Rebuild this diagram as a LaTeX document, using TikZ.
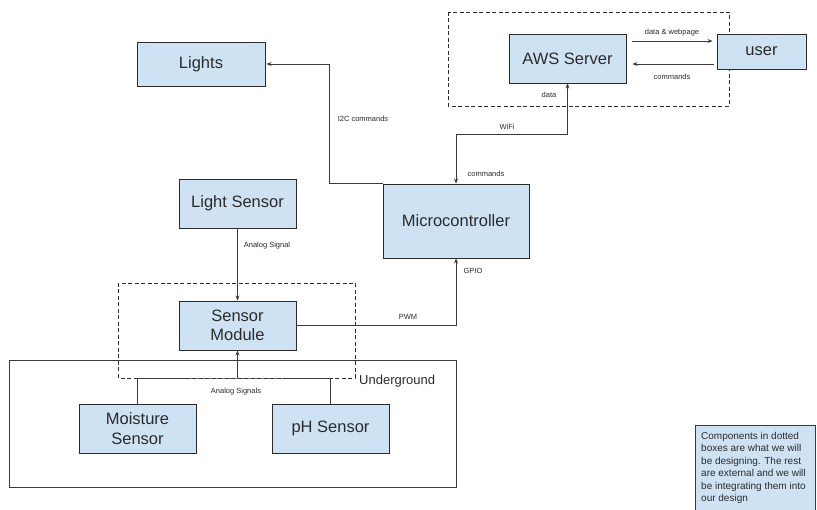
\documentclass[tikz,border=0pt]{standalone}
\usepackage{fontspec}
\setmainfont{Liberation Sans}
\usetikzlibrary{arrows.meta,calc}
\definecolor{boxblue}{HTML}{CFE2F3}
\definecolor{ink}{HTML}{2B2B2B}
\definecolor{wire}{HTML}{3A3A3A}

\begin{document}
\begin{tikzpicture}[x=1pt,y=-1pt,
  block/.style={draw=ink, fill=boxblue, line width=0.9pt, inner sep=0pt,
    align=center, text=ink, font=\fontsize{16.5}{19.5}\selectfont},
  tag/.style={text=ink, inner sep=0pt, font=\fontsize{7.5}{9}\selectfont},
  arr/.style={draw=wire, line width=0.8pt, -{Stealth[length=5pt,width=4pt]}},
  link/.style={draw=wire, line width=0.8pt},
  dashbox/.style={draw=ink, line width=0.8pt, dash pattern=on 4pt off 2.5pt},
]
\useasboundingbox (0,0) rectangle (817,510);
\fill[white] (0,0) rectangle (817,510);

% underground enclosure and design-scope dashed frames
\draw[draw=wire, line width=0.9pt] (9,360) rectangle (456,487);
\node[anchor=west, inner sep=0pt, text=ink, font=\fontsize{13}{15}\selectfont] (ug) at (359,381) {Underground};
\draw[dashbox] (448,12) rectangle (729,106);
\draw[dashbox] (118,283) rectangle (355,378);

% components
\node[block, minimum width=117pt, minimum height=49pt] (aws) at (567.5,58.5) {AWS Server};
\node[block, minimum width=89pt, minimum height=35pt] (user) at (761.5,51.5) {user};
\node[block, minimum width=128pt, minimum height=44pt] (lights) at (201,64) {Lights};
\node[block, minimum width=117pt, minimum height=49pt] (lsensor) at (237.5,203.5) {Light Sensor};
\node[block, minimum width=146pt, minimum height=74pt] (mcu) at (456,221) {Microcontroller};
\node[block, minimum width=117pt, minimum height=49pt] (smod) at (237.5,325.5) {Sensor\\Module};
\node[block, minimum width=117pt, minimum height=49pt] (moist) at (137.5,428.5) {Moisture\\Sensor};
\node[block, minimum width=117pt, minimum height=49pt] (ph) at (330.5,428.5) {pH Sensor};

% server <-> user
\coordinate (dw) at ($(aws.east)+(6,-17.5)$);
\draw[arr, shorten >=4pt] (dw) -- (dw -| user.west);
\node[tag] (dwl) at (672,33) {data \& webpage};
\coordinate (cm) at ($(aws.east -| user.west)+(-3,5.5)$);
\draw[arr, shorten >=6pt] (cm) -- (cm -| aws.east);
\node[tag] (cml) at (672,77) {commands};

% microcontroller <-> server over WiFi
\coordinate (wf) at (mcu.north |- 0,134);
\draw[link, {Stealth[length=5pt,width=4pt]}-{Stealth[length=5pt,width=4pt]}] (aws.south) |- (wf) -- (mcu.north);
\node[tag] (datal) at (549,95) {data};
\node[tag] (wfl) at (507,127) {WiFi};
\node[tag] (mcl) at (486,174) {commands};

% microcontroller -> lights
\coordinate (ic) at (329,0);
\draw[arr, shorten >=1pt] (mcu.north west) -| (ic |- lights.east) -- (lights.east);
\node[tag] (icl) at (363,119) {I2C commands};

% light sensor -> sensor module
\draw[arr] (lsensor.south) -- (smod.north);
\node[tag] (asl) at (267,246) {Analog Signal};

% sensor module -> microcontroller
\draw[arr] (smod.east) -| (mcu.south);
\node[tag] (pwml) at (408,317) {PWM};
\node[tag] (gpl) at (473,271) {GPIO};

% soil sensors -> sensor module
\coordinate (bus) at (smod.south |- 0,378);
\draw[link] (moist.north) |- (bus) -| (ph.north);
\draw[arr] (bus) -- (smod.south);
\node[tag] (asls) at (236,392) {Analog Signals};

% legend
\draw[draw=wire, fill=boxblue, line width=0.8pt] (695,512) -- (695,425) -- (815.5,425) -- (815.5,512);
\node[anchor=north west, inner sep=0pt, align=left, text=ink,
  font=\fontsize{10}{12.4}\selectfont] (legend) at (701,432)
  {Components in dotted\\boxes are what we will\\be designing. The rest\\are external and we will\\be integrating them into\\our design};
\end{tikzpicture}
\end{document}
